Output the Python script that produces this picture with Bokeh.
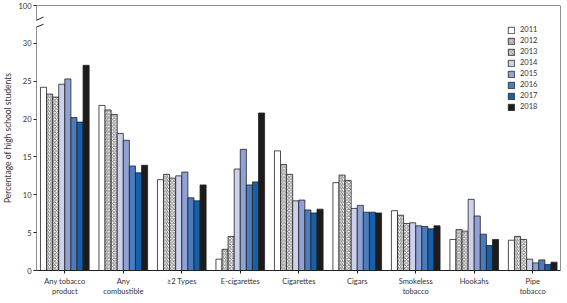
from bokeh.plotting import figure
from bokeh.models import Range1d, FixedTicker, Span, Arrow, Label, Legend, LegendItem
from bokeh.embed import file_html
from bokeh.resources import INLINE

categories = ["Any tobacco\nproduct", "Any\ncombustible", "≥2 Types", "E-cigarettes",
              "Cigarettes", "Cigars", "Smokeless\ntobacco", "Hookahs", "Pipe\ntobacco"]
years = ["2011", "2012", "2013", "2014", "2015", "2016", "2017", "2018"]
v2011 = [24.2, 21.8, 12.0, 1.5, 15.8, 11.6, 7.9, 4.1, 4.0]
v2012 = [23.3, 21.2, 12.7, 2.8, 14.0, 12.6, 7.3, 5.4, 4.5]
v2013 = [22.9, 20.6, 12.2, 4.5, 12.7, 11.9, 6.2, 5.2, 4.1]
v2014 = [24.6, 18.1, 12.5, 13.4, 9.2, 8.2, 6.3, 9.4, 1.5]
v2015 = [25.3, 17.2, 13.0, 16.0, 9.3, 8.6, 5.9, 7.2, 1.0]
v2016 = [20.2, 13.8, 9.6, 11.3, 8.0, 7.7, 5.8, 4.8, 1.4]
v2017 = [19.6, 12.9, 9.2, 11.7, 7.6, 7.7, 5.5, 3.3, 0.8]
v2018 = [27.1, 13.9, 11.3, 20.8, 8.1, 7.6, 5.9, 4.1, 1.1]
series = [v2011, v2012, v2013, v2014, v2015, v2016, v2017, v2018]
y_ticks = [0, 5, 10, 15, 20, 25, 30, 35]
y_tick_labels = ["0", "5", "10", "15", "20", "25", "30", "100"]

fills = ["#ffffff", "#ffffff", "#ffffff", "#ccd2ec", "#8fa2d6", "#4a7cbf", "#1660aa", "#1c1c1c"]
hatches = [None, "/", "x", None, None, None, None, None]

FONT = "Lato"
TXT = "#333333"
x0, x1 = -0.484, 8.475
ymax = 35

p = figure(width=567, height=303, output_backend="svg", toolbar_location=None,
           x_range=Range1d(x0, x1), y_range=Range1d(0, ymax),
           min_border_left=32, min_border_right=7, min_border_top=5, min_border_bottom=33)
p.outline_line_color = None
p.grid.visible = False
p.background_fill_color = "white"

w = 0.104
items = []
for j, (yr, vals) in enumerate(zip(years, series)):
    xs = [i + (j - 3.5) * w for i in range(len(categories))]
    kw = dict(fill_color=fills[j], line_color="#222222", line_width=0.8)
    if hatches[j]:
        kw.update(hatch_pattern=hatches[j], hatch_color="#777777", hatch_scale=3.5, hatch_weight=0.9)
    r = p.vbar(x=xs, top=vals, width=w, bottom=0, **kw)
    items.append(LegendItem(label=yr, renderers=[r]))

# axes
xa = p.xaxis[0]
xa.ticker = FixedTicker(ticks=list(range(len(categories))))
xa.major_label_overrides = {i: c for i, c in enumerate(categories)}
xa.major_tick_out = 3
xa.major_tick_in = 0
xa.minor_tick_line_color = None
xa.axis_line_color = "#222222"
xa.major_tick_line_color = "#222222"
xa.major_label_text_font = FONT
xa.major_label_text_font_size = "7.5px"
xa.major_label_text_color = TXT
xa.major_label_standoff = 3

ya = p.yaxis[0]
ya.ticker = FixedTicker(ticks=y_ticks)
ya.major_label_overrides = {t: l for t, l in zip(y_ticks, y_tick_labels)}
ya.axis_line_color = None
ya.major_tick_out = 3
ya.major_tick_in = 0
ya.minor_tick_line_color = None
ya.major_tick_line_color = "#222222"
ya.major_label_text_font = FONT
ya.major_label_text_font_size = "7.5px"
ya.major_label_text_color = TXT
ya.major_label_standoff = 2
ya.axis_label = "Percentage of high school students"
ya.axis_label_text_font = FONT
ya.axis_label_text_font_size = "8.5px"
ya.axis_label_text_font_style = "normal"
ya.axis_label_text_color = TXT
ya.axis_label_standoff = 2

# frame lines
p.add_layout(Span(location=ymax, dimension="width", line_color="#222222", line_width=1))
p.add_layout(Span(location=x1, dimension="height", line_color="#222222", line_width=1))
# broken y axis line
for (ya0, ya1) in [(0, 32.17), (33.05, ymax)]:
    p.add_layout(Arrow(end=None, x_start=x0, y_start=ya0, x_end=x0, y_end=ya1,
                       line_color="#222222", line_width=1))
for (ys0, ys1) in [(31.86, 32.52), (32.69, 33.48)]:
    p.add_layout(Arrow(end=None, x_start=x0 - 0.10, y_start=ys0, x_end=x0 + 0.12, y_end=ys1,
                       line_color="#222222", line_width=1))

# x title
p.add_layout(Label(x=3.73, y=-4.08, text="Tobacco product type", text_align="center",
                   text_baseline="bottom", text_font=FONT, text_font_size="8.5px", text_color=TXT))

legend = Legend(items=items, location=(471, 159), orientation="vertical",
                glyph_width=8, glyph_height=8, label_height=8, spacing=2,
                label_standoff=5, padding=0, margin=0, border_line_color=None,
                background_fill_alpha=0, label_text_font=FONT, label_text_font_size="7.5px",
                label_text_color=TXT, label_text_baseline="middle")
p.add_layout(legend)

open("out.html", "w").write(file_html(p, INLINE))
